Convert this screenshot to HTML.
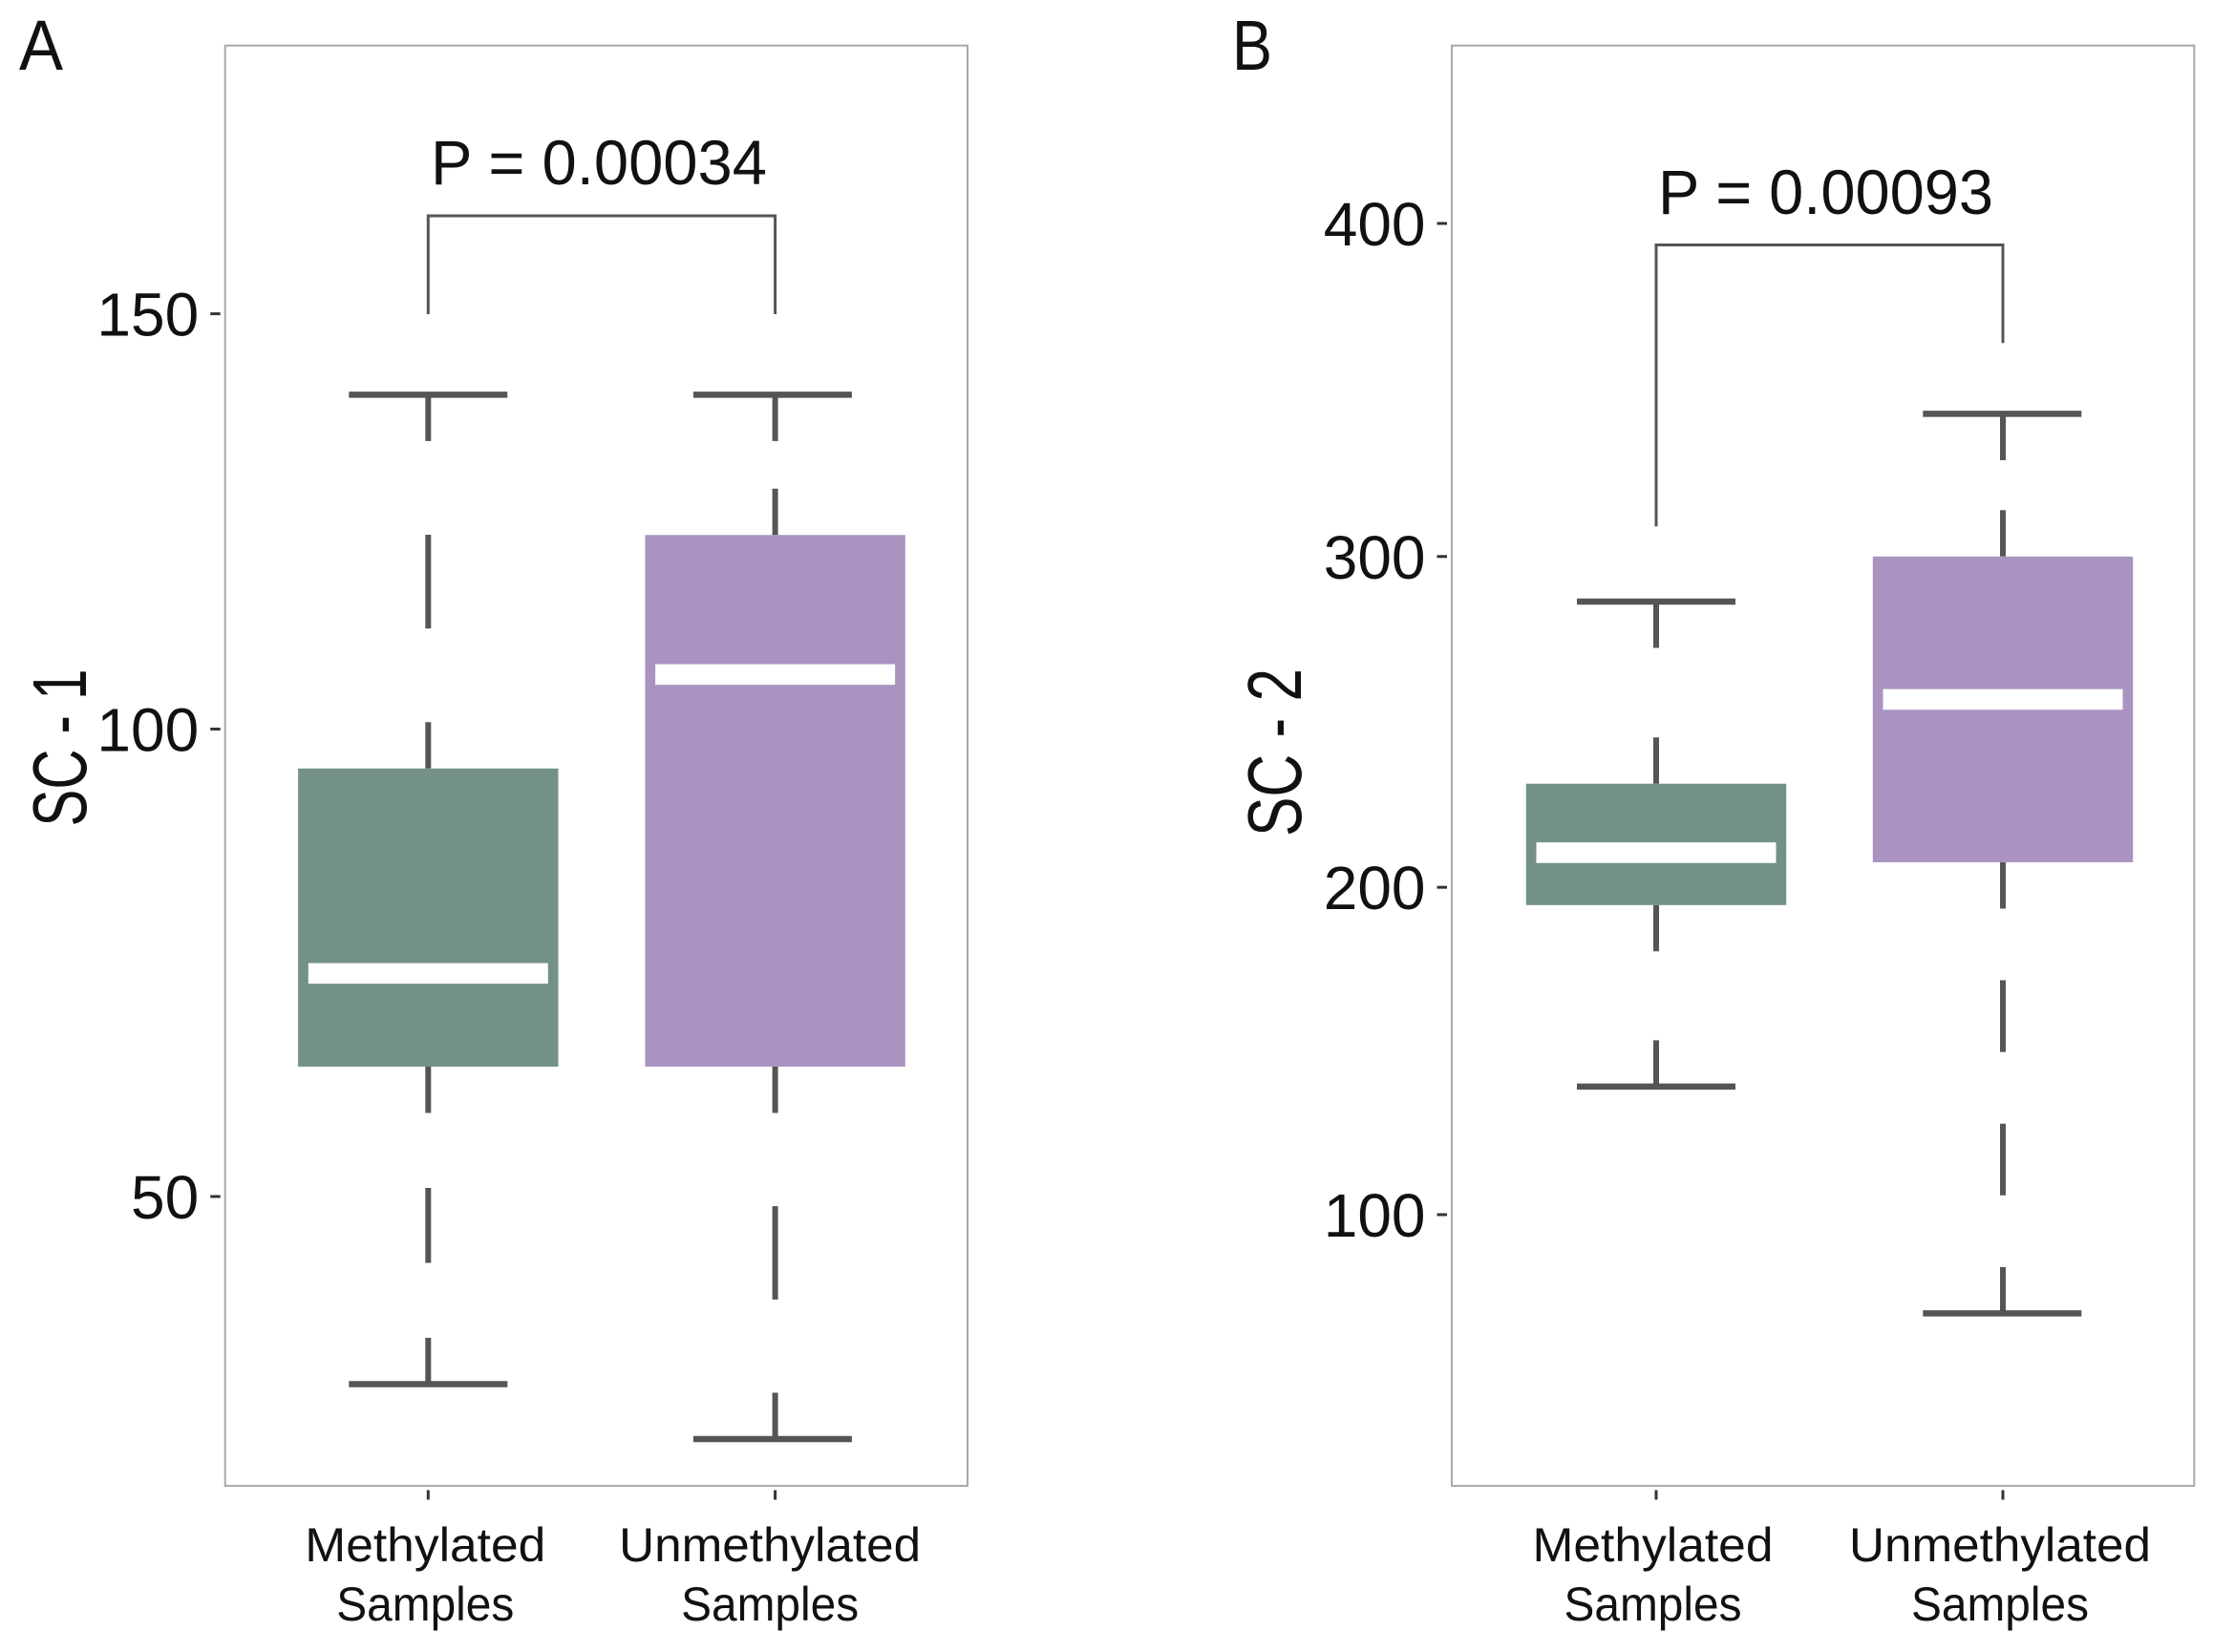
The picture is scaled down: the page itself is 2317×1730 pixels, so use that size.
<!DOCTYPE html>
<html lang="en">
<head>
<meta charset="utf-8">
<title>SC-1 and SC-2 by methylation status</title>
<style>
html,body{margin:0;padding:0;background:#fff;}
svg{display:block;}
text{font-family:"Liberation Sans",sans-serif;fill:#111;}
</style>
</head>
<body>
<svg id="figure" xmlns="http://www.w3.org/2000/svg" width="2317" height="1730" viewBox="0 0 2317 1730"></svg>
<script>
// ---- data ----
const categoryLine1 = ['Methylated', 'Unmethylated'];
const categoryLine2 = ['Samples', 'Samples'];

const aWhiskerHigh = [139.9, 139.9];
const aBoxTop = [95.5, 122.8];
const aMedian = [72.9, 106.3];
const aBoxBottom = [63.1, 63.1];
const aWhiskerLow = [32.4, 27.6];
const aTicks = [50, 100, 150];
const aTickLabels = ['50', '100', '150'];

const bWhiskerHigh = [286.4, 342.9];
const bBoxTop = [231.4, 300];
const bMedian = [210.5, 256.9];
const bBoxBottom = [194.6, 207.6];
const bWhiskerLow = [139.3, 69.5];
const bTicks = [100, 200, 300, 400];
const bTickLabels = ['100', '200', '300', '400'];

const boxColors = ['#739188', '#aa93c0'];

// ---- axis functions ----
function powerScale(v0, px0, v1, px1, p) {
  const f0 = Math.pow(v0, p), f1 = Math.pow(v1, p);
  return v => px0 + (Math.pow(v, p) - f0) * (px1 - px0) / (f1 - f0);
}
function bandScale(first, second) {
  return i => first + i * (second - first);
}

// ---- drawing helpers ----
const NS = 'http://www.w3.org/2000/svg';
const svg = document.getElementById('figure');
function make(tag, name, parent, props, content) {
  const el = document.createElementNS(NS, tag);
  
  
  for (const k in props) el.setAttribute(k, props[k]);
  if (content !== undefined) el.textContent = content;
  parent.appendChild(el);
  return el;
}
function line(name, parent, x1, y1, x2, y2, color, width) {
  return make('line', name, parent, {x1, y1, x2, y2, stroke: color, 'stroke-width': width});
}
const WHISK = '#555555';

// Dashed whisker: fixed stubs at both ends, equal gap/dash pieces between
function whisker(parent, name, x, yA, yB) {
  const stub = 48.5;
  const top = Math.min(yA, yB), bot = Math.max(yA, yB);
  const inner = bot - top - 2 * stub;
  if (inner <= 0) { line(name + '-segment', parent, x, top, x, bot, WHISK, 6); return; }
  let n = 1;
  while (inner / (n + 2) >= 70) n += 2;
  const piece = inner / n;
  line(name + '-segment', parent, x, top, x, top + stub, WHISK, 6);
  for (let i = 1; i < n; i += 2) {
    const s = top + stub + i * piece;
    line(name + '-segment', parent, x, s, x, s + piece, WHISK, 6);
  }
  line(name + '-segment', parent, x, bot - stub, x, bot, WHISK, 6);
}

function panel(cfg) {
  const g = make('g', cfg.id + '-panel', svg, {});
  make('text', cfg.id + '-panel-letter', g, {
    x: cfg.letterX, y: 73, 'font-size': 74,
    textLength: cfg.letterLen, lengthAdjust: 'spacingAndGlyphs'
  }, cfg.letter);
  make('rect', cfg.id + '-plot-border', g, {
    x: cfg.left, y: cfg.top, width: cfg.right - cfg.left, height: cfg.bottom - cfg.top,
    fill: '#ffffff', stroke: '#a9a9a9', 'stroke-width': 2
  });

  // y axis
  cfg.ticks.forEach((t, i) => {
    const y = cfg.y(t);
    line('y-tick-' + t, g, cfg.left - 15.5, y, cfg.left - 5, y, '#333333', 3);
    make('text', 'y-tick-label-' + t, g, {
      x: cfg.left - 27.5, y: y + 23, 'font-size': 64, 'text-anchor': 'end'
    }, cfg.tickLabels[i]);
  });
  make('text', cfg.id + '-y-axis-title', g, {
    transform: 'translate(' + cfg.titleX + ',' + cfg.titleY + ') rotate(-90)',
    'font-size': 80, 'text-anchor': 'middle',
    textLength: cfg.titleLen, lengthAdjust: 'spacingAndGlyphs'
  }, cfg.title);

  // boxes
  categoryLine1.forEach((cat, i) => {
    const cx = cfg.x(i);
    const id = cfg.id + '-' + cat.toLowerCase();
    const yHigh = cfg.y(cfg.whiskerHigh[i]);
    const yTop = cfg.y(cfg.boxTop[i]);
    const yMed = cfg.y(cfg.median[i]);
    const yBot = cfg.y(cfg.boxBottom[i]);
    const yLow = cfg.y(cfg.whiskerLow[i]);
    const capX = cx + cfg.capShift[i];

    whisker(g, id + '-upper-whisker', cx, yHigh, yTop);
    whisker(g, id + '-lower-whisker', cx, yBot, yLow);
    line(id + '-upper-cap', g, capX - 83, yHigh, capX + 83, yHigh, WHISK, 6.5);
    line(id + '-lower-cap', g, capX - 83, yLow, capX + 83, yLow, WHISK, 6.5);
    make('rect', id + '-box', g, {
      x: cx - 136.2, y: yTop, width: 272.4, height: yBot - yTop, fill: boxColors[i]
    });
    make('rect', id + '-median', g, {
      x: cx - 125.5, y: yMed - 10.8, width: 251, height: 21.6, fill: '#ffffff'
    });

    line(id + '-x-tick', g, cx, cfg.bottom + 4.5, cx, cfg.bottom + 14.5, '#333333', 3);
    const shift = cfg.labelShift[i];
    make('text', id + '-x-label-line-1', g, {
      x: cx + shift, y: 1635, 'font-size': 50, 'text-anchor': 'middle',
      textLength: i === 0 ? 252 : 316, lengthAdjust: 'spacingAndGlyphs'
    }, categoryLine1[i]);
    make('text', id + '-x-label-line-2', g, {
      x: cx + shift, y: 1697, 'font-size': 50, 'text-anchor': 'middle',
      textLength: 186, lengthAdjust: 'spacingAndGlyphs'
    }, categoryLine2[i]);
  });

  // significance bracket
  const bx1 = cfg.x(0), bx2 = cfg.x(1);
  make('path', cfg.id + '-significance-bracket', g, {
    d: 'M' + bx1 + ' ' + cfg.brLeft + 'V' + cfg.brTop + 'H' + bx2 + 'V' + cfg.brRight,
    fill: 'none', stroke: '#555555', 'stroke-width': 3
  });
  make('text', cfg.id + '-p-value', g, {
    x: cfg.pX, y: cfg.pY, 'font-size': 66,
    textLength: cfg.pLen, lengthAdjust: 'spacingAndGlyphs'
  }, cfg.pText);
}

panel({
  id: 'panel-a', letter: 'A', letterX: 20, letterLen: 46,
  left: 235.7, right: 1013, top: 47.7, bottom: 1556,
  x: bandScale(448.3, 811.6),
  y: powerScale(50, 1253, 150, 328.6, 0.775),
  ticks: aTicks, tickLabels: aTickLabels,
  whiskerHigh: aWhiskerHigh, boxTop: aBoxTop, median: aMedian, boxBottom: aBoxBottom, whiskerLow: aWhiskerLow,
  title: 'SC - 1', titleX: 90, titleY: 783, titleLen: 165,
  capShift: [0, -2.7],
  labelShift: [-3, -5.5],
  brTop: 226, brLeft: 329, brRight: 329,
  pText: 'P = 0.00034', pX: 451, pY: 193, pLen: 352
});

panel({
  id: 'panel-b', letter: 'B', letterX: 1290, letterLen: 42,
  left: 1520, right: 2297.3, top: 47.7, bottom: 1556,
  x: bandScale(1734, 2097),
  y: powerScale(100, 1272, 400, 234, 1.02),
  ticks: bTicks, tickLabels: bTickLabels,
  whiskerHigh: bWhiskerHigh, boxTop: bBoxTop, median: bMedian, boxBottom: bBoxBottom, whiskerLow: bWhiskerLow,
  title: 'SC - 2', titleX: 1362, titleY: 788, titleLen: 176,
  capShift: [0, -0.7],
  labelShift: [-3.5, -3],
  brTop: 256.5, brLeft: 551.3, brRight: 359.3,
  pText: 'P = 0.00093', pX: 1736, pY: 224, pLen: 351
});
</script>
</body>
</html>
